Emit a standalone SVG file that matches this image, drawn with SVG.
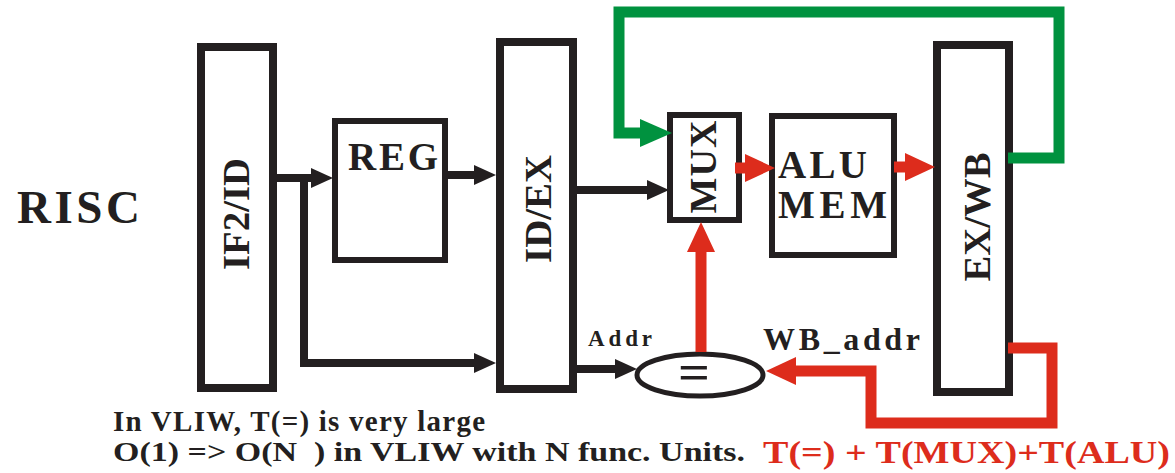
<svg xmlns="http://www.w3.org/2000/svg" width="1175" height="473" viewBox="0 0 1175 473">
<style>
.box{fill:#fff;stroke:#231f20;stroke-linejoin:miter}
.t{font-family:"Liberation Serif","Times New Roman",serif;font-weight:bold;fill:#231f20}
.blk{fill:none;stroke:#231f20;stroke-width:8;stroke-linejoin:miter}
.red{fill:none;stroke:#dd2c1c;stroke-width:11;stroke-linejoin:miter}
.grn{fill:none;stroke:#00923f;stroke-width:11;stroke-linejoin:miter}
</style>
<defs>
<marker id="hb" markerUnits="userSpaceOnUse" markerWidth="22" markerHeight="20" refX="8" refY="10" orient="auto" viewBox="0 0 22 20"><path d="M0,0 L22,10 L0,20 z" fill="#231f20"/></marker>
<marker id="hr" markerUnits="userSpaceOnUse" markerWidth="30" markerHeight="28" refX="10" refY="14" orient="auto" viewBox="0 0 30 28"><path d="M0,0 L30,14 L0,28 z" fill="#dd2c1c"/></marker>
<marker id="hg" markerUnits="userSpaceOnUse" markerWidth="32" markerHeight="28" refX="10" refY="14" orient="auto" viewBox="0 0 32 28"><path d="M0,0 L32,14 L0,28 z" fill="#00923f"/></marker>
</defs>
<rect width="1175" height="473" fill="#fff"/>

<g id="risc"><text class="t" x="17" y="223" font-size="47" textLength="123" lengthAdjust="spacing">RISC</text></g>

<g id="if2id">
<rect class="box" x="201" y="47" width="72" height="341" stroke-width="8"/>
<text class="t" font-size="38" text-anchor="middle" transform="translate(236,214) rotate(-90)" y="12.5" textLength="112" lengthAdjust="spacingAndGlyphs">IF2/ID</text>
</g>
<g id="reg">
<rect class="box" x="335" y="121" width="110" height="139" stroke-width="6"/>
<text class="t" x="348" y="170" font-size="39" textLength="90" lengthAdjust="spacing">REG</text>
</g>
<g id="idex">
<rect class="box" x="500" y="42" width="73" height="347" stroke-width="8"/>
<text class="t" font-size="38" text-anchor="middle" transform="translate(538,209) rotate(-90)" y="12.5" textLength="108" lengthAdjust="spacingAndGlyphs">ID/EX</text>
</g>
<g id="mux">
<rect class="box" x="670" y="115" width="69" height="105" stroke-width="6"/>
<text class="t" font-size="38" text-anchor="middle" transform="translate(703,167) rotate(-90)" y="12.5" textLength="93" lengthAdjust="spacing">MUX</text>
</g>
<g id="alumem">
<rect class="box" x="772" y="116" width="122" height="139" stroke-width="6"/>
<text class="t" x="778" y="178" font-size="39" textLength="89" lengthAdjust="spacing">ALU</text>
<text class="t" x="778" y="218" font-size="39" textLength="109" lengthAdjust="spacing">MEM</text>
</g>
<g id="exwb">
<rect class="box" x="937" y="45" width="72" height="347" stroke-width="8"/>
<text class="t" font-size="38" text-anchor="middle" transform="translate(977,217) rotate(-90)" y="12.5" textLength="129" lengthAdjust="spacingAndGlyphs">EX/WB</text>
</g>
<g id="cmp">
<ellipse class="box" cx="700" cy="375" rx="63" ry="21" stroke-width="5"/>
<text class="t" x="694" y="389" font-size="50" text-anchor="middle" textLength="32" lengthAdjust="spacingAndGlyphs">=</text>
</g>

<g id="connectors">
<path class="blk" d="M277,178 H319" marker-end="url(#hb)"/>
<path class="blk" d="M304,174 V363 H482" marker-end="url(#hb)"/>
<path class="blk" d="M445,175 H482" marker-end="url(#hb)"/>
<path class="blk" d="M573,190 H655" marker-end="url(#hb)"/>
<path class="blk" d="M573,369 H623" marker-end="url(#hb)"/>
<path class="red" d="M735,168 H755" marker-end="url(#hr)"/>
<path class="red" d="M894,167 H915" marker-end="url(#hr)"/>
<path class="red" d="M701,352 V242" marker-end="url(#hr)"/>
<path class="red" d="M1008,348 H1052 V423 H871 V371 H786" marker-end="url(#hr)"/>
<path class="grn" d="M1008,158 H1059 V12 H619 V133 H650" marker-end="url(#hg)"/>
</g>

<g id="labels">
<text class="t" x="588" y="346" font-size="23" textLength="64" lengthAdjust="spacing">Addr</text>
<text class="t" x="763" y="350" font-size="32" textLength="157" lengthAdjust="spacing">WB_addr</text>
<text class="t" x="113" y="431" font-size="29" textLength="372" lengthAdjust="spacing">In VLIW, T(=) is very large</text>
<text class="t" x="113" y="461" font-size="28" xml:space="preserve" textLength="632" lengthAdjust="spacingAndGlyphs">O(1) =&gt; O(N  ) in VLIW with N func. Units.</text>
<text class="t" x="763" y="463" font-size="32" style="fill:#dd2c1c" textLength="407" lengthAdjust="spacingAndGlyphs">T(=) + T(MUX)+T(ALU)</text>
</g>
</svg>
